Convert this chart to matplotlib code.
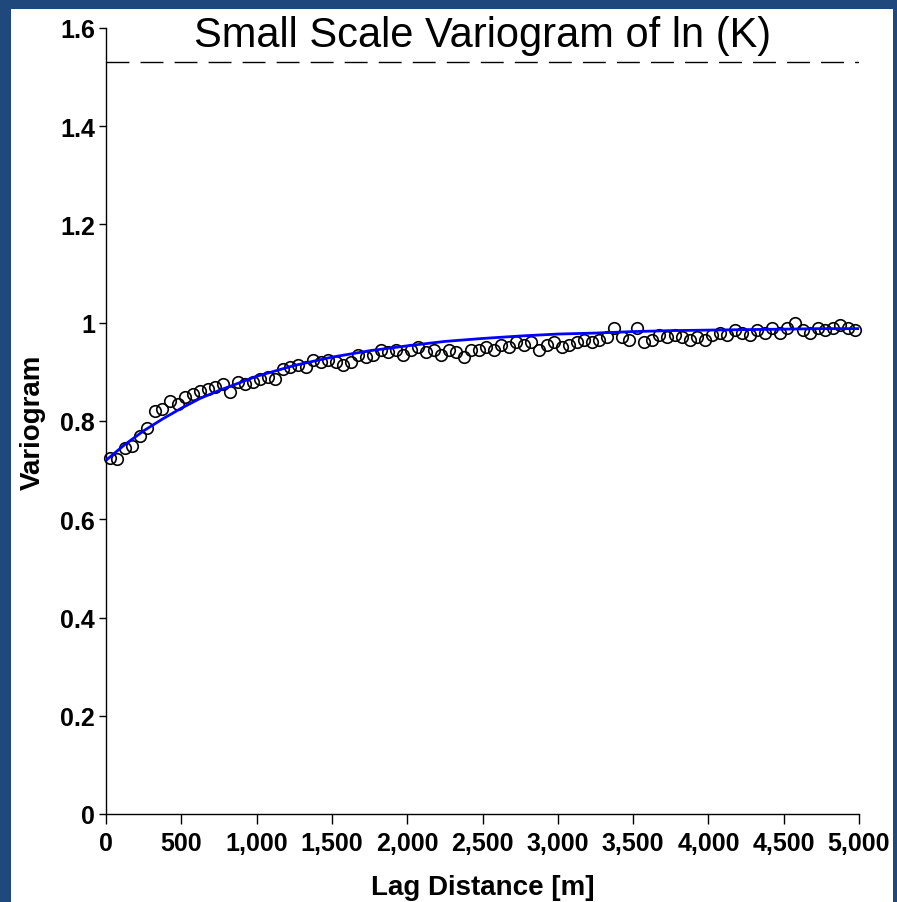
import matplotlib
matplotlib.use("Agg")
import matplotlib.pyplot as plt
from matplotlib.patches import Rectangle
from matplotlib.ticker import FuncFormatter, MultipleLocator

# experimental variogram (lag [m], gamma)
lags = [
    25, 75, 125, 175, 225, 275, 325, 375, 425, 475,
    525, 575, 625, 675, 725, 775, 825, 875, 925, 975,
    1025, 1075, 1125, 1175, 1225, 1275, 1325, 1375, 1425, 1475,
    1525, 1575, 1625, 1675, 1725, 1775, 1825, 1875, 1925, 1975,
    2025, 2075, 2125, 2175, 2225, 2275, 2325, 2375, 2425, 2475,
    2525, 2575, 2625, 2675, 2725, 2775, 2825, 2875, 2925, 2975,
    3025, 3075, 3125, 3175, 3225, 3275, 3325, 3375, 3425, 3475,
    3525, 3575, 3625, 3675, 3725, 3775, 3825, 3875, 3925, 3975,
    4025, 4075, 4125, 4175, 4225, 4275, 4325, 4375, 4425, 4475,
    4525, 4575, 4625, 4675, 4725, 4775, 4825, 4875, 4925, 4975,
]
gamma = [
    0.725, 0.722, 0.745, 0.750, 0.770, 0.785, 0.820, 0.825, 0.840, 0.835,
    0.849, 0.855, 0.861, 0.865, 0.869, 0.875, 0.860, 0.880, 0.875, 0.880,
    0.885, 0.890, 0.885, 0.905, 0.910, 0.915, 0.910, 0.925, 0.920, 0.925,
    0.920, 0.915, 0.920, 0.935, 0.930, 0.935, 0.945, 0.940, 0.945, 0.935,
    0.945, 0.950, 0.940, 0.945, 0.935, 0.945, 0.940, 0.930, 0.945, 0.945,
    0.950, 0.945, 0.955, 0.950, 0.960, 0.955, 0.960, 0.945, 0.955, 0.960,
    0.950, 0.955, 0.960, 0.965, 0.960, 0.965, 0.970, 0.990, 0.970, 0.965,
    0.990, 0.960, 0.965, 0.975, 0.970, 0.975, 0.970, 0.965, 0.970, 0.965,
    0.975, 0.980, 0.975, 0.985, 0.980, 0.975, 0.985, 0.980, 0.990, 0.980,
    0.990, 1.000, 0.985, 0.980, 0.990, 0.985, 0.990, 0.995, 0.990, 0.985,
]

# fitted model
model_lags = [0, 125, 250, 375, 500, 625, 750, 1000, 1250, 1500, 1750, 2000,
              2250, 2500, 2750, 3000, 3250, 3500, 3750, 4000, 4250, 4500,
              4750, 5000]
model_gamma = [0.720, 0.752, 0.780, 0.804, 0.826, 0.846, 0.862, 0.891, 0.913,
               0.930, 0.943, 0.953, 0.962, 0.968, 0.973, 0.977, 0.979, 0.982,
               0.984, 0.985, 0.986, 0.987, 0.988, 0.988]

sill = 1.53

W, H = 897, 903
fig = plt.figure(figsize=(W / 100, H / 100), dpi=100, facecolor="#1f497d")
fig.patches.append(Rectangle((11 / W, 0), 882 / W, (H - 10) / H,
                             transform=fig.transFigure, facecolor="white",
                             edgecolor="none", zorder=-10))

ax = fig.add_axes([106 / W, 1 - 815 / H, 753 / W, 786 / H])
ax.set_facecolor("none")

ax.axhline(sill, color="black", lw=1.0, linestyle=(0, (16.5, 8)))
ax.plot(lags, gamma, linestyle="none", marker="o", ms=8.3,
        mfc="none", mec="black", mew=1.2, clip_on=False, zorder=3)
ax.plot(model_lags, model_gamma, color="#0000ff", lw=2.0, zorder=4)

ax.set_xlim(0, 5000)
ax.set_ylim(0, 1.6)
ax.xaxis.set_major_locator(MultipleLocator(500))
ax.yaxis.set_major_locator(MultipleLocator(0.2))
ax.xaxis.set_major_formatter(FuncFormatter(lambda v, p: f"{v:,.0f}"))
ax.yaxis.set_major_formatter(FuncFormatter(lambda v, p: f"{v:g}"))

for side in ("top", "right"):
    ax.spines[side].set_visible(False)
for side in ("left", "bottom"):
    ax.spines[side].set_linewidth(1.0)

tick_font = {"family": "Liberation Sans", "weight": "bold", "size": 18}
ax.tick_params(axis="y", length=5, width=1.0, pad=3)
ax.tick_params(axis="x", length=7, width=1.0, pad=5)
for lab in ax.get_xticklabels() + ax.get_yticklabels():
    lab.set_fontproperties(tick_font)

ax.set_xlabel("Lag Distance [m]", family="Liberation Sans", weight="bold",
              size=20, labelpad=14)
ax.set_ylabel("Variogram", family="Liberation Sans", weight="bold",
              size=20, labelpad=10)

ax.text(0.5, (815 - 47) / 786, "Small Scale Variogram of ln (K)",
        transform=ax.transAxes, ha="center", va="baseline",
        family="Liberation Sans", size=30)

fig.savefig("out.png", dpi=100, facecolor=fig.get_facecolor())
